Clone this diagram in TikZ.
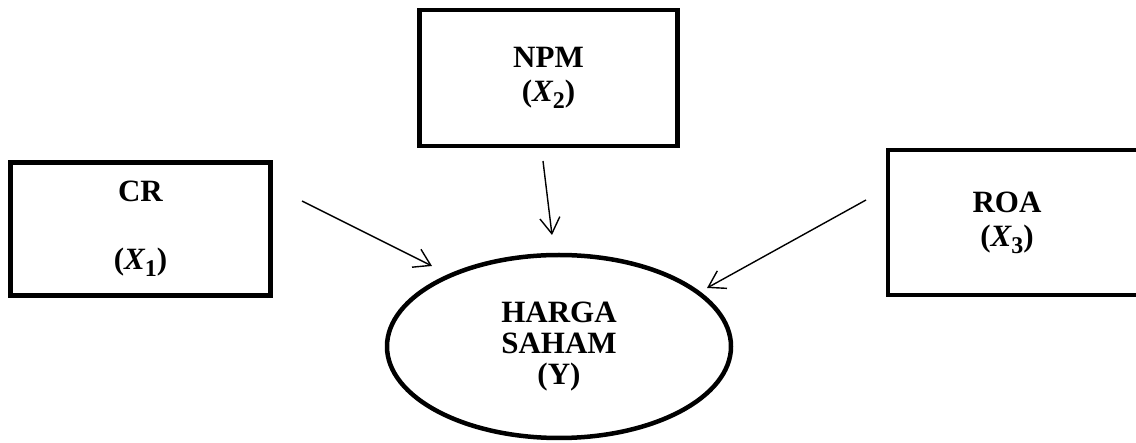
\documentclass[tikz,border=0pt]{standalone}
\usepackage{fontspec}
\setmainfont{Liberation Serif}
\usetikzlibrary{arrows.meta,shapes.geometric}
\newcommand{\xvar}[1]{{\itshape X}\raisebox{-7pt}{\fontsize{24}{24}\selectfont #1}}
\tikzset{
  varbox/.style={draw, line width=4.5pt, rectangle, inner sep=0pt, align=center,
    font=\fontsize{31}{34}\selectfont\bfseries},
  depnode/.style={draw, line width=4.5pt, ellipse, inner sep=0pt, align=center,
    minimum width=344pt, minimum height=183pt,
    font=\fontsize{31}{31}\selectfont\bfseries},
  link/.style={line width=1.4pt, -{Straight Barb[length=16pt,width=20pt]}}
}
\begin{document}
\begin{tikzpicture}[x=1pt,y=-1pt]
\useasboundingbox (0,0) rectangle (1136,443);
\node[varbox, minimum width=260pt, minimum height=133pt] (cr) at (140.5,229) {CR\\[34pt](\xvar{1})};
\node[varbox, minimum width=258pt, minimum height=136pt] (npm) at (548.5,78) {NPM\\(\xvar{2})};
\node[varbox, minimum width=260pt, minimum height=145pt] (roa) at (1018,222.5) {};
\node[font=\fontsize{31}{34}\selectfont\bfseries, align=center] (roatext) at (1007,222.5) {ROA\\(\xvar{3})};
\node[depnode] (y) at (559,346.5) {HARGA\\SAHAM\\(Y)};
\coordinate (a1s) at (302,201);
\coordinate (a1e) at (432,266);
\coordinate (a2s) at (543,161);
\coordinate (a2e) at (552,235);
\coordinate (a3s) at (866,200);
\coordinate (a3e) at (707,288);
\draw[link] (a1s) -- (a1e);
\draw[link] (a2s) -- (a2e);
\draw[link] (a3s) -- (a3e);
\end{tikzpicture}
\end{document}
